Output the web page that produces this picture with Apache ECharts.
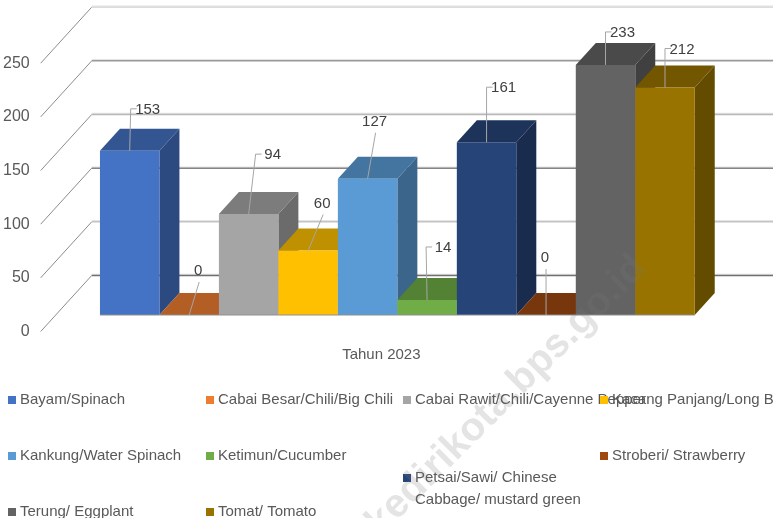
<!DOCTYPE html>
<html>
<head>
<meta charset="utf-8">
<script src="https://cdn.jsdelivr.net/npm/echarts@6/dist/echarts.min.js"></script>
<style>
  html, body { margin: 0; padding: 0; background: #fff; }
  #chart { width: 773px; height: 518px; }
</style>
</head>
<body>
<div id="chart"></div>
<script>
var categories = ['Tahun 2023'];
var seriesNames = [
  'Bayam/Spinach',
  'Cabai Besar/Chili/Big Chili',
  'Cabai Rawit/Chili/Cayenne Pepper',
  'Kacang Panjang/Long Beans',
  'Kankung/Water Spinach',
  'Ketimun/Cucumber',
  'Petsai/Sawi/ Chinese Cabbage/ mustard green',
  'Stroberi/ Strawberry',
  'Terung/ Eggplant',
  'Tomat/ Tomato'
];
var seriesValues = [153, 0, 94, 60, 127, 14, 161, 0, 233, 212];
var seriesColors = ['#4472C4', '#ED7D31', '#A5A5A5', '#FFC000', '#5B9BD5', '#70AD47', '#264478', '#9E480E', '#636363', '#997300'];
var yTicks = [0, 50, 100, 150, 200, 250];
var gridColors = ['#707070', '#c4c4c4', '#858585', '#b8b8b8', '#9a9a9a', '#dcdcdc'];
// label position relative to the middle of the bar's front top edge, last item: draw elbow
var labelOffsets = [[18, -41, 1], [9, -44, 0], [24, -59, 1], [14, -47, 0], [7, -57, 0], [16, -52, 1], [17, -54, 1], [-1, -57, 0], [17, -32, 1], [17, -38, 1]];
var legendCols = [8, 206, 403, 600];
var legendRows = [389, 445, 501];

var textColor = '#595959';
var fontName = '"Liberation Sans Narrow", "Liberation Sans", sans-serif';
var wallDepth = [51, -56];   // depth of the floor
var barPlane = [16, -16.5];  // front of the bars, from the front of the floor
var barDepth = [20, -22];
var barShare = 0.0873;

function shade(hex, k) {
  var n = parseInt(hex.slice(1), 16);
  var r = Math.round((n >> 16) * k);
  var g = Math.round(((n >> 8) & 255) * k);
  var b = Math.round((n & 255) * k);
  return 'rgb(' + r + ',' + g + ',' + b + ')';
}

function renderWall(params, api) {
  var cs = params.coordSys;
  var p = api.coord([0, api.value(0)]);
  var x0 = cs.x;
  var y0 = p[1];
  var x1 = x0 + wallDepth[0];
  var y1 = y0 + wallDepth[1];
  var color = gridColors[params.dataIndex];
  return {
    type: 'group',
    children: [{
      type: 'polyline',
      shape: { points: [[x0, y0], [x1, y1]] },
      style: { stroke: '#8c8c8c', fill: null, lineWidth: 1 }
    }, {
      type: 'line',
      shape: { x1: x1, y1: y1 - 1, x2: x0 + cs.width + wallDepth[0], y2: y1 - 1 },
      style: { stroke: '#e4e4e4', lineWidth: 1.5 }
    }, {
      type: 'line',
      shape: { x1: x1, y1: y1, x2: x0 + cs.width + wallDepth[0], y2: y1 },
      style: { stroke: color, lineWidth: 1.5 }
    }]
  };
}

function makeRenderBar(i) {
  return function (params, api) {
    var value = api.value(1);
    var top = api.coord([0, value]);
    var base = api.coord([0, 0]);
    var w = api.size([1, 0])[0] * barShare;
    var xl = top[0] + (i - 5) * w + barPlane[0];
    var xr = xl + w;
    var yt = top[1] + barPlane[1];
    var yb = base[1] + barPlane[1];
    var dx = barDepth[0];
    var dy = barDepth[1];
    var color = seriesColors[i];
    var mid = (xl + xr) / 2;
    var off = labelOffsets[i];
    var tx = mid + off[0];
    var ty = yt + off[1];
    var leader;
    if (off[2]) {
      leader = [[mid, yt], [tx - 17, ty - 1], [tx - 11, ty - 1]];
    } else {
      leader = [[mid, yt], [tx + 1, ty + 11]];
    }
    return {
      type: 'group',
      children: [{
        type: 'polygon',
        shape: { points: [[xr, yb], [xr + dx, yb + dy], [xr + dx, yt + dy], [xr, yt]] },
        style: { fill: shade(color, 0.65) }
      }, {
        type: 'polygon',
        shape: { points: [[xl, yt], [xr, yt], [xr + dx, yt + dy], [xl + dx, yt + dy]] },
        style: { fill: shade(color, 0.75) }
      }, {
        type: 'rect',
        shape: { x: xl, y: yt, width: w, height: yb - yt },
        style: { fill: color }
      }, {
        type: 'line',
        shape: { x1: xl, y1: yb, x2: xr, y2: yb },
        style: { stroke: '#8f8f8f', lineWidth: 1 }
      }, {
        type: 'polyline',
        shape: { points: leader },
        style: { stroke: '#a6a6a6', fill: null, lineWidth: 1 }
      }, {
        type: 'text',
        style: {
          x: tx,
          y: ty,
          text: String(value),
          fill: '#404040',
          font: '15px ' + fontName,
          align: 'center',
          verticalAlign: 'middle'
        }
      }]
    };
  };
}

var series = [{
  type: 'custom',
  name: 'wall',
  silent: true,
  renderItem: renderWall,
  encode: { y: 0 },
  data: yTicks
}];
for (var i = 0; i < seriesNames.length; i++) {
  series.push({
    type: 'custom',
    name: seriesNames[i],
    renderItem: makeRenderBar(i),
    itemStyle: { color: seriesColors[i] },
    encode: { x: 0, y: 1 },
    data: [[0, seriesValues[i]]]
  });
}

var legends = [];
for (var j = 0; j < seriesNames.length; j++) {
  var isLong = j == 6;
  legends.push({
    data: [seriesNames[j]],
    left: legendCols[j % 4],
    top: legendRows[Math.floor(j / 4)] - (isLong ? 0 : 0),
    icon: 'rect',
    itemWidth: 8,
    itemHeight: 8,
    itemGap: 0,
    padding: 0,
    selectedMode: false,
    formatter: function (name) {
      // blank first line keeps the marker beside the first line of text
      if (name.indexOf('Petsai') == 0) return '\nPetsai/Sawi/ Chinese\nCabbage/ mustard green';
      return name;
    },
    textStyle: { color: textColor, fontFamily: fontName, fontSize: 15, lineHeight: 22, padding: [0, 0, 0, -1] }
  });
}

var option = {
  animation: false,
  backgroundColor: '#fff',
  grid: { left: 39, top: 63.2, width: 683, height: 268.3 },
  legend: legends,
  xAxis: {
    type: 'category',
    data: categories,
    axisLine: { show: false },
    axisTick: { show: false },
    axisLabel: { color: textColor, fontFamily: fontName, fontSize: 15, margin: 16 }
  },
  yAxis: {
    type: 'value',
    min: 0,
    max: 250,
    interval: 50,
    axisLine: { show: false },
    axisTick: { show: false },
    splitLine: { show: false },
    axisLabel: { color: textColor, fontFamily: fontName, fontSize: 16, margin: 11 }
  },
  series: series,
  graphic: [{
    type: 'text',
    z: 100,
    silent: true,
    x: 640,
    y: 262,
    rotation: Math.PI / 4,
    style: {
      text: 'kedirikota.bps.go.id',
      fill: 'rgba(120,120,120,0.2)',
      font: 'bold 40px "Liberation Sans", sans-serif',
      align: 'right',
      verticalAlign: 'middle'
    }
  }]
};

var myChart = echarts.init(document.getElementById('chart'));
myChart.setOption(option);
</script>
</body>
</html>
